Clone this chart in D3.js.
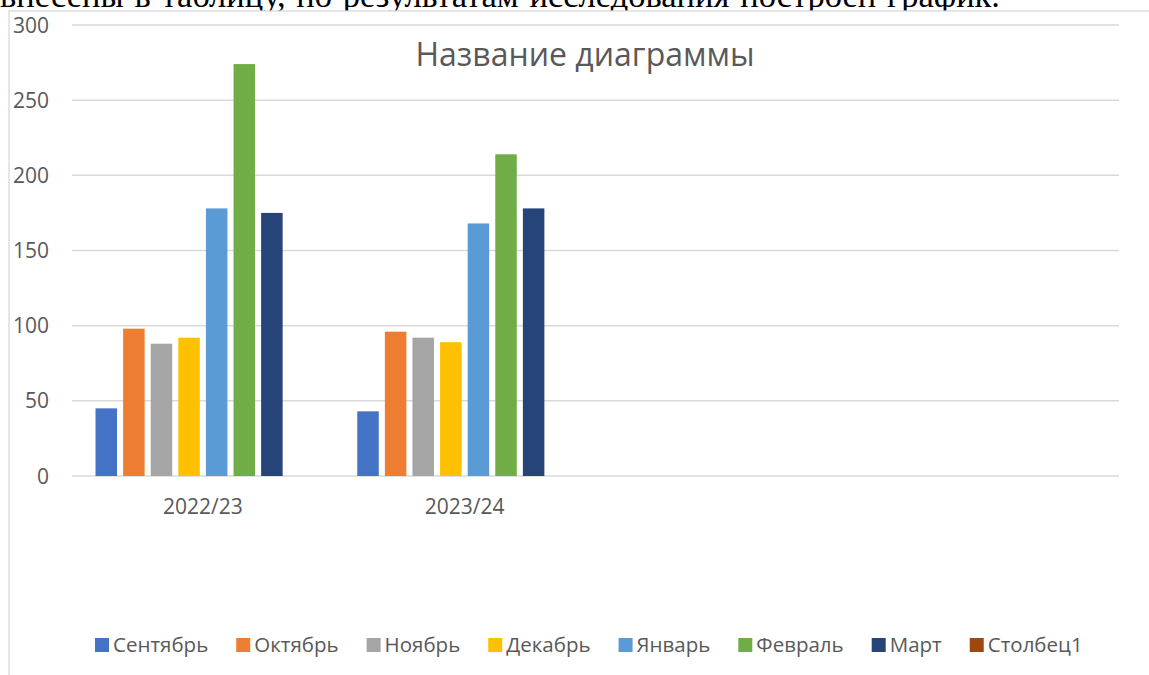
<!DOCTYPE html>
<html><head><meta charset="utf-8">
<script src="https://cdn.jsdelivr.net/npm/d3@7/dist/d3.min.js"></script>
<style>
html,body{margin:0;padding:0;background:#fff;overflow:hidden;}
svg{display:block;}
</style></head>
<body>
<script>
const categories = ["2022/23", "2023/24", "", ""];
const seriesNames = ["Сентябрь", "Октябрь", "Ноябрь", "Декабрь", "Январь", "Февраль", "Март", "Столбец1"];
const seriesColors = ["#4472C4", "#ED7D31", "#A5A5A5", "#FFC000", "#5B9BD5", "#70AD47", "#264478", "#9E480E"];
// values per series, one per category (null = empty)
const sep = [45, 43, null, null];
const oct = [98, 96, null, null];
const nov = [88, 92, null, null];
const dec = [92, 89, null, null];
const jan = [178, 168, null, null];
const feb = [274, 214, null, null];
const mar = [175, 178, null, null];
const col1 = [null, null, null, null];
const seriesValues = [sep, oct, nov, dec, jan, feb, mar, col1];
const yTicks = [0, 50, 100, 150, 200, 250, 300];
const chartTitle = "Название диаграммы";
const docText = "внесены в таблицу, по результатам исследования построен график.";

const W = 1149, H = 675;
const svg = d3.select("body").append("svg").attr("width", W).attr("height", H);
const FONT = "'Open Sans', 'Noto Sans', sans-serif";

// document text above the chart (justified line, partly hidden by the chart)
const doc = svg.append("text").attr("x", 0).attr("y", 7)
  .attr("font-family", "'Liberation Serif', 'Times New Roman', serif")
  .attr("font-size", 34.5).attr("fill", "#000").text(docText);
(function justify(){
  const n = doc.node();
  const full = n.getComputedTextLength();
  const s = Math.max(0, (1000 - full) / 7);
  doc.attr("word-spacing", s);
})();

// chart area
svg.append("rect").attr("x", 9).attr("y", 11).attr("width", W + 20).attr("height", H + 20)
  .attr("fill", "#fff").attr("stroke", "#d9d9d9").attr("stroke-width", 1.3);

const plot = {l: 72, r: 1119, t: 25, b: 476};
const y = d3.scaleLinear().domain([0, 300]).range([plot.b, plot.t]);
const x0 = d3.scaleBand().domain(categories.map((c, i) => i)).range([plot.l, plot.r]).paddingInner(0).paddingOuter(0);
const x1 = d3.scaleBand().domain(seriesNames).range([0, x0.bandwidth()]).paddingInner(0.221).paddingOuter(0.852);

// gridlines
svg.append("g").selectAll("line").data(yTicks).join("line")
  .attr("x1", plot.l).attr("x2", plot.r)
  .attr("y1", d => y(d)).attr("y2", d => y(d))
  .attr("stroke", "#d9d9d9").attr("stroke-width", 1.5);

// y labels
svg.append("g").selectAll("text").data(yTicks).join("text")
  .attr("x", 49).attr("y", d => y(d) + 7.5).attr("text-anchor", "end")
  .attr("font-family", FONT).attr("font-size", 21).attr("fill", "#595959")
  .text(d => d);

// bars
const gBars = svg.append("g");
seriesNames.forEach((s, si) => {
  gBars.append("g").selectAll("rect")
    .data(seriesValues[si].map((v, ci) => ({v, ci})).filter(d => d.v != null))
    .join("rect")
    .attr("x", d => x0(d.ci) + x1(s))
    .attr("width", x1.bandwidth())
    .attr("y", d => y(d.v))
    .attr("height", d => y(0) - y(d.v))
    .attr("fill", seriesColors[si]);
});

// category labels
svg.append("g").selectAll("text").data(categories).join("text")
  .attr("x", (d, i) => x0(i) + x0.bandwidth() / 2).attr("y", 514).attr("text-anchor", "middle")
  .attr("font-family", FONT).attr("font-size", 21).attr("fill", "#595959")
  .text(d => d);

// title
svg.append("text").attr("x", 585).attr("y", 66).attr("text-anchor", "middle")
  .attr("font-family", FONT).attr("font-size", 32).attr("fill", "#595959").text(chartTitle);

// legend
const leg = svg.append("g");
let lx = 95;
seriesNames.forEach((s, i) => {
  leg.append("rect").attr("x", lx).attr("y", 638).attr("width", 14).attr("height", 14).attr("fill", seriesColors[i]);
  const t = leg.append("text").attr("x", lx + 18).attr("y", 652)
    .attr("font-family", FONT).attr("font-size", 20.5).attr("fill", "#595959").text(s);
  lx += 18 + t.node().getComputedTextLength() + 28;
});
</script>
</body></html>
